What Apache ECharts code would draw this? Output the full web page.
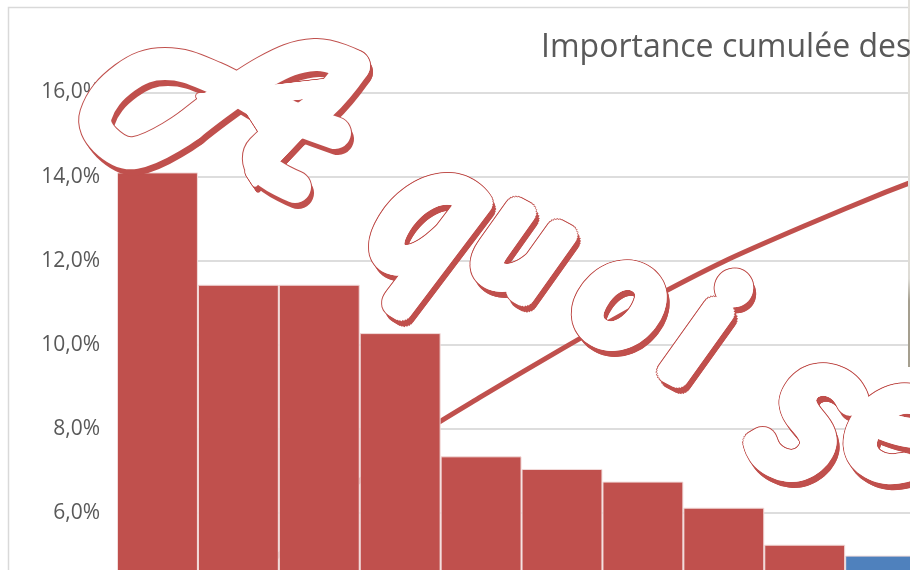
<!DOCTYPE html>
<html><head><meta charset="utf-8">
<style>html,body{margin:0;padding:0;background:#fff;overflow:hidden}#c{width:910px;height:570px}</style>
<script src="https://cdn.jsdelivr.net/npm/echarts@6/dist/echarts.min.js"></script>
</head><body><div id="c"></div>
<script>
const categories = ['C1','C2','C3','C4','C5','C6','C7','C8','C9','C10','C11'];
const barValues = [14.1,11.43,11.43,10.28,7.35,7.05,6.75,6.13,5.25,4.99,4.6];
const cumulValues = [14.1,25.5,37,47.3,54.8,61.9,68.7,74.9,80.2,85.2,89.8];
const blueIndex = 9;
const titleText = 'Importance cumulée des';
const wordArt = [
  {ch:'A', x:276, y:116, size:170, rot:-1.0, sx:1, r:2},
  {ch:'q', x:436, y:214, size:205, rot:-0.55, sx:0.8, r:9.5},
  {ch:'u', x:526, y:243, size:150, rot:-0.5, sx:1, r:9.5},
  {ch:'o', x:625, y:297, size:150, rot:-0.5, sx:1, r:9.5},
  {ch:'i', x:702, y:333, size:160, rot:-0.5, sx:1, r:9.5},
  {ch:'s', x:815, y:410, size:215, rot:-0.5, sx:0.92, r:9.5},
  {ch:'e', x:900, y:422, size:170, rot:-0.5, sx:1, r:9.5}
];
const swashes = [
  [[190,125],[135,153],[105,140],[96,115],[125,78],[165,64],[215,78],[270,108],[335,133]],
  [[354,66],[322,104],[262,150],[262,167],[295,187]],
  [[354,66],[315,55],[265,72],[190,125]]
];
const font = s => `italic 400 ${s}px Lato, "Open Sans", sans-serif`;
const red = '#C0504D';
const N = 24, SW = 32;
function layer(dx, dy, grow, color, z, sw) {
  const out = [];
  swashes.forEach(p => out.push({type:'polyline',z,silent:true,x:dx,y:dy,
    shape:{points:p,smooth:0.4},
    style:{fill:'none',stroke:color,lineWidth:sw,lineCap:'round',lineJoin:'round'}}));
  wordArt.forEach(l => {
    const r = l.r + grow;
    for (let k=0;k<N;k++){
      const a=k/N*Math.PI*2;
      out.push({type:'text',z,silent:true,x:l.x+dx+r*Math.cos(a),y:l.y+dy+r*Math.sin(a),rotation:l.rot,scaleX:l.sx,
        style:{text:l.ch,font:font(l.size),fill:color,align:'center',verticalAlign:'middle'}});
    }
  });
  return out;
}
const layers = [...layer(3,6,0,red,100,SW), ...layer(0,0,1,red,101,SW+2), ...layer(0,0,0,'#fff',102,SW)];

const chart = echarts.init(document.getElementById('c'), null, {renderer:'canvas'});
chart.setOption({
  animation:false,
  backgroundColor:'#fff',
  title:{text:titleText,left:536,top:27,textStyle:{color:'#595959',fontFamily:'"Open Sans"',fontSize:32,fontWeight:'normal'}},
  grid:{left:117,top:92.5,width:890,height:673,containLabel:false,outerBoundsMode:'none'},
  xAxis:{type:'category',data:categories,axisLine:{show:false},axisTick:{show:false},axisLabel:{show:false}},
  yAxis:[
    {type:'value',min:0,max:16,interval:2,
     axisLine:{show:false},axisTick:{show:false},
     splitLine:{lineStyle:{color:'#DDDDDD',width:2}},
     axisLabel:{color:'#595959',fontFamily:'"Open Sans"',fontSize:21,margin:17,padding:[12,0,0,0],
       formatter:v=>v.toFixed(1).replace('.',',')+'%'}},
    {type:'value',min:0,max:100,show:false,splitLine:{show:false}}
  ],
  series:[
    {type:'line',yAxisIndex:1,data:cumulValues,smooth:0.2,showSymbol:false,z:2,
     lineStyle:{color:red,width:5}},
    {type:'bar',data:barValues.map((v,i)=>({value:v,itemStyle:{color:i===blueIndex?'#4F81BD':red}})),
     barCategoryGap:0,z:3,itemStyle:{borderColor:'#F2DCDB',borderWidth:1}}
  ],
  graphic:[
    {type:'rect',shape:{x:8.5,y:7.5,width:1000,height:700},z:1,silent:true,style:{fill:'none',stroke:'#D9D9D9',lineWidth:1.5}},
    {type:'rect',shape:{x:908,y:0,width:2,height:367},z:5,silent:true,
     style:{fill:new echarts.graphic.LinearGradient(0,0,0,1,[
       {offset:0,color:'#E3E1DC'},{offset:0.76,color:'#DEDCD6'},{offset:0.82,color:'#A59F8F'},{offset:1,color:'#A59F8F'}])}},
    ...layers
  ]
});
</script></body></html>
